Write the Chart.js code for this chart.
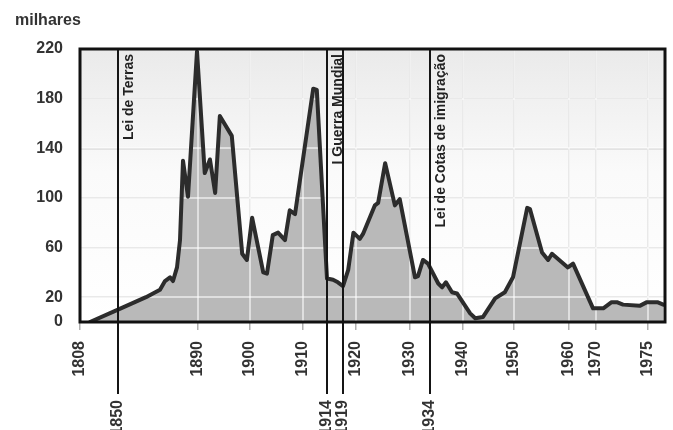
<!DOCTYPE html>
<html>
<head>
<meta charset="utf-8">
<script src="https://cdn.jsdelivr.net/npm/chart.js@4/dist/chart.umd.min.js"></script>
<style>
  html, body { margin: 0; padding: 0; background: #fff; }
  #wrap { width: 673px; height: 430px; position: relative; }
</style>
</head>
<body>
<div id="wrap"><canvas id="c" width="673" height="430"></canvas></div>
<script>
// ---- data ----
const years = [1819, 1850, 1864, 1871, 1873.5, 1876, 1877.5, 1879.5, 1881, 1882.5, 1885, 1889.5, 1891.3, 1892.3, 1893.3, 1894.2, 1896.5, 1898.5, 1899.4, 1900.4, 1902.5, 1903.2, 1904.3, 1905.3, 1906.6, 1907.5, 1908.5, 1911.7, 1912.3, 1914, 1915.9, 1917.4, 1919, 1919.4, 1919.8, 1920.7, 1921.3, 1923.5, 1924.1, 1925.4, 1927.2, 1928.1, 1931, 1931.6, 1932.6, 1933.6, 1935.5, 1936.2, 1936.9, 1938, 1938.9, 1941.4, 1942.4, 1943.9, 1946.3, 1948.2, 1949.8, 1952.4, 1952.9, 1955.1, 1956.2, 1956.9, 1959.8, 1961.5, 1968.9, 1970.7, 1971.5, 1972, 1972.6, 1974.2, 1974.9, 1976.1, 1976.8];
const immigrants = [0, 10, 20, 26, 33, 36, 33, 44, 66, 130, 101, 218, 120, 131, 104, 166, 150, 55, 50, 84, 40, 39, 70, 72, 66, 90, 87, 188, 187, 35, 34, 32, 29, 42, 72, 67, 71, 94, 96, 128, 94, 99, 36, 37, 50, 47, 31, 28, 32, 24, 23, 7, 3, 4, 19, 24, 36, 92, 91, 56, 50, 55, 44, 47, 11, 11, 16, 16, 14, 13, 16, 16, 14];
const xTickYears = [1808, 1890, 1900, 1910, 1920, 1930, 1940, 1950, 1960, 1970, 1975];
const yTickValues = [0, 20, 60, 100, 140, 180, 220];
const eventYears = [1850, 1914, 1919, 1934];
const eventYearLabels = ['1850', '1914', '1919', '1934'];
const eventNotes = ['Lei de Terras', 'I Guerra Mundial', '', 'Lei de Cotas de imigração'];
const yUnitLabel = 'milhares';

// ---- the original's non-uniform time axis (year -> fraction of axis length) ----
const warpYears = [1808, 1850, 1890, 1900, 1910, 1914, 1919, 1920, 1930, 1934, 1940, 1950, 1960, 1970, 1975, 1977];
const warpFrac = [0, 38, 118, 170, 223, 247, 263, 276, 330, 350, 383, 434, 489, 516, 568, 585].map(v => v / 585);
function warp(v) {
  if (v <= warpYears[0]) return warpFrac[0];
  for (let i = 1; i < warpYears.length; i++) {
    if (v <= warpYears[i]) {
      const t = (v - warpYears[i - 1]) / (warpYears[i] - warpYears[i - 1]);
      return warpFrac[i - 1] + t * (warpFrac[i] - warpFrac[i - 1]);
    }
  }
  return 1;
}
function unwarp(f) {
  for (let i = 1; i < warpFrac.length; i++) {
    if (f <= warpFrac[i]) {
      const t = (f - warpFrac[i - 1]) / (warpFrac[i] - warpFrac[i - 1]);
      return warpYears[i - 1] + t * (warpYears[i] - warpYears[i - 1]);
    }
  }
  return warpYears[warpYears.length - 1];
}
class WarpScale extends Chart.LinearScale {
  getPixelForValue(value) { return this.getPixelForDecimal(warp(value)); }
  getValueForPixel(pixel) { return unwarp(this.getDecimalForPixel(pixel)); }
}
WarpScale.id = 'warp';
WarpScale.defaults = Chart.LinearScale.defaults;
Chart.register(WarpScale);

const FONT = '"Liberation Sans", Arial, sans-serif';
const TXT = '#333333';

const decor = {
  id: 'decor',
  beforeDraw(chart) {
    const { ctx, chartArea: a } = chart;
    const g = ctx.createLinearGradient(0, a.top, 0, a.bottom);
    g.addColorStop(0, '#eaeaea');
    g.addColorStop(0.45, '#fafafa');
    g.addColorStop(1, '#ffffff');
    ctx.save();
    ctx.fillStyle = g;
    ctx.fillRect(a.left, a.top, a.width, a.height);
    ctx.fillStyle = TXT;
    ctx.font = 'bold 16px ' + FONT;
    ctx.textAlign = 'left';
    ctx.textBaseline = 'middle';
    ctx.fillText(yUnitLabel, 15, 21);
    ctx.restore();
  },
  afterDatasetDraw(chart, args) {
    if (args.index !== 0) return;
    const { ctx, chartArea: a, scales: { x, y } } = chart;
    ctx.save();
    ctx.beginPath();
    ctx.rect(a.left, a.top, a.width, a.height);
    ctx.clip();
    ctx.strokeStyle = 'rgba(255,255,255,0.55)';
    ctx.lineWidth = 2;
    x.ticks.forEach(t => {
      const px = Math.round(x.getPixelForValue(t.value));
      ctx.beginPath(); ctx.moveTo(px, a.top); ctx.lineTo(px, a.bottom); ctx.stroke();
    });
    y.ticks.forEach(t => {
      const py = Math.round(y.getPixelForValue(t.value));
      ctx.beginPath(); ctx.moveTo(a.left, py); ctx.lineTo(a.right, py); ctx.stroke();
    });
    ctx.restore();
  },
  afterDatasetsDraw(chart) {
    const { ctx, chartArea: a, scales: { x } } = chart;
    ctx.save();
    ctx.strokeStyle = '#151515';
    ctx.lineWidth = 2;
    eventYears.forEach((yr, i) => {
      const px = Math.round(x.getPixelForValue(yr));
      ctx.beginPath(); ctx.moveTo(px, a.top); ctx.lineTo(px, 394); ctx.stroke();
      ctx.save();
      ctx.translate(px, 400);
      ctx.rotate(-Math.PI / 2);
      ctx.fillStyle = TXT;
      ctx.font = 'bold 16px ' + FONT;
      ctx.textAlign = 'right';
      ctx.textBaseline = 'middle';
      ctx.fillText(eventYearLabels[i], 0, 0);
      ctx.restore();
      if (eventNotes[i]) {
        ctx.save();
        ctx.translate(px + 11, a.top + 5);
        ctx.rotate(-Math.PI / 2);
        ctx.fillStyle = '#222';
        ctx.font = 'bold 14px ' + FONT;
        ctx.textAlign = 'right';
        ctx.textBaseline = 'middle';
        ctx.fillText(eventNotes[i], 0, 0);
        ctx.restore();
      }
    });
    ctx.strokeStyle = '#111';
    ctx.lineWidth = 3;
    ctx.strokeRect(a.left, a.top, a.width, a.height);
    ctx.restore();
  }
};

const pts = years.map((yr, i) => ({ x: yr, y: immigrants[i] }));

new Chart(document.getElementById('c'), {
  type: 'line',
  data: {
    datasets: [
      { data: pts, fill: 'origin', backgroundColor: '#b9b9b9', borderWidth: 0, pointRadius: 0, tension: 0, order: 2 },
      { data: pts, fill: false, borderColor: '#2c2c2c', borderWidth: 4, borderJoinStyle: 'round', borderCapStyle: 'round', pointRadius: 0, tension: 0, order: 1 }
    ]
  },
  options: {
    responsive: false,
    animation: false,
    events: [],
    layout: { padding: { top: 49, right: 8, left: 0, bottom: 0 } },
    plugins: { legend: { display: false }, tooltip: { enabled: false } },
    scales: {
      x: {
        type: 'warp',
        min: 1808,
        max: 1977,
        afterBuildTicks: s => { s.ticks = xTickYears.map(v => ({ value: v })); },
        afterFit: s => { s.height = 108; s.paddingLeft = 0; s.paddingRight = 0; },
        border: { display: false },
        grid: { color: '#cfcfcf', lineWidth: 1.5, tickLength: 8, drawTicks: true, tickColor: '#b0b0b0' },
        ticks: {
          autoSkip: false, minRotation: 90, maxRotation: 90, padding: 11,
          color: TXT, font: { family: FONT, size: 16, weight: 'bold' },
          callback: v => String(v)
        }
      },
      y: {
        type: 'linear',
        min: 0,
        max: 220,
        afterBuildTicks: s => { s.ticks = yTickValues.map(v => ({ value: v })); },
        afterFit: s => { s.width = 80; s.paddingTop = 0; s.paddingBottom = 0; },
        border: { display: false },
        grid: { color: '#cfcfcf', lineWidth: 1.5, drawTicks: false },
        ticks: {
          padding: 17, color: TXT, font: { family: FONT, size: 16, weight: 'bold' },
          callback: v => String(v)
        }
      }
    }
  },
  plugins: [decor]
});
</script>
</body>
</html>
